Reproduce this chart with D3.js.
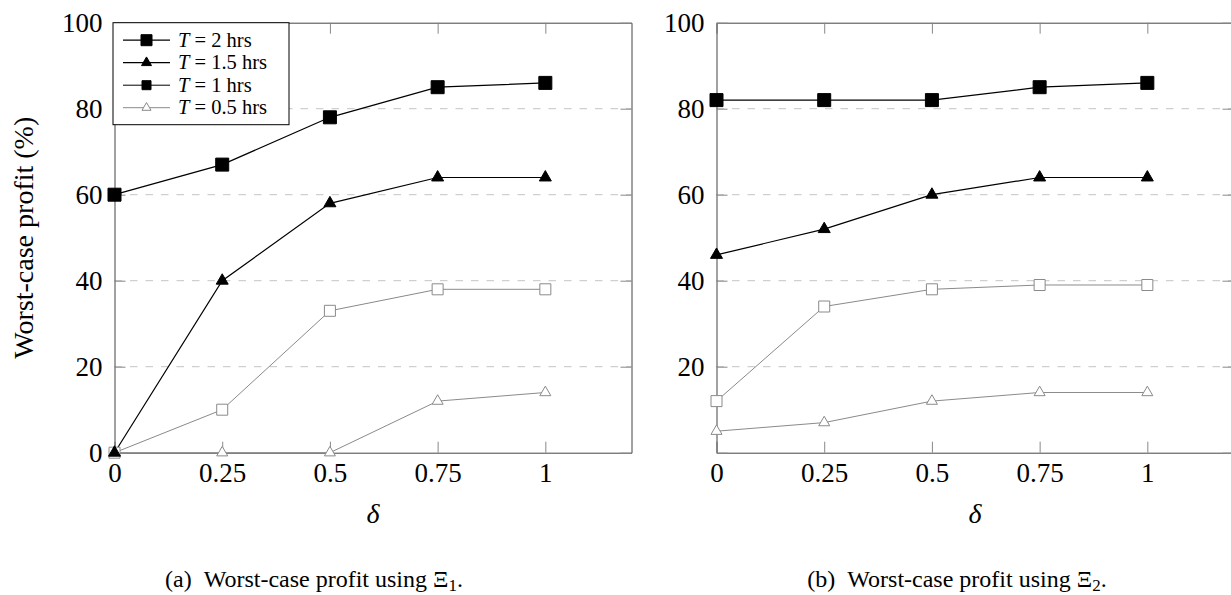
<!DOCTYPE html>
<html lang="en">
<head>
<meta charset="utf-8">
<title>Worst-case profit</title>
<script src="https://cdn.jsdelivr.net/npm/d3@7/dist/d3.min.js"></script>
<style>
  body { margin: 0; background: #fff; }
  text { font-family: "Liberation Serif", "Times New Roman", serif; fill: #000; }
  .tick line { stroke: #888; }
  .domain { stroke: #444; }
</style>
</head>
<body>
<svg id="chart" width="1231" height="595"></svg>
<script>
// delta values on the x axis
var deltas = [0, 0.25, 0.5, 0.75, 1];
var xTicks = [0, 0.25, 0.5, 0.75, 1];
var xTickLabels = ["0", "0.25", "0.5", "0.75", "1"];
var yTicksLeft = [0, 20, 40, 60, 80, 100];
var yTicksRight = [20, 40, 60, 80, 100];
var gridValues = [20, 40, 60, 80];

var seriesNames = ["2 hrs", "1.5 hrs", "1 hrs", "0.5 hrs"];

// panel (a): Xi_1
var xi1_T2 = [60, 67, 78, 85, 86];
var xi1_T15 = [0, 40, 58, 64, 64];
var xi1_T1 = [0, 10, 33, 38, 38];
var xi1_T05 = [0, 0, 0, 12, 14];

// panel (b): Xi_2
var xi2_T2 = [82, 82, 82, 85, 86];
var xi2_T15 = [46, 52, 60, 64, 64];
var xi2_T1 = [12, 34, 38, 39, 39];
var xi2_T05 = [5, 7, 12, 14, 14];

// how each series is drawn (legend copies the original figure, incl. the filled square for T = 1)
var styles = [
    { line: "#000", width: 1.2, marker: "square", fill: "#000", stroke: "#000", size: 13, legendFill: "#000" },
    { line: "#000", width: 1.2, marker: "triangle", fill: "#000", stroke: "#000", size: 12, legendFill: "#000" },
    { line: "#8a8a8a", width: 1, marker: "square", fill: "#fff", stroke: "#8a8a8a", size: 11, legendFill: "#000", legendLine: "#000" },
    { line: "#8a8a8a", width: 1, marker: "triangle", fill: "#fff", stroke: "#8a8a8a", size: 11, legendFill: "#fff" }
];

var svg = d3.select("#chart");
var plotW = 517, plotH = 430, plotTop = 22.7;

function markerPath(kind, size) {
    if (kind == "square") return d3.symbol(d3.symbolSquare, size * size)();
    return d3.symbol(d3.symbolTriangle, size * size * Math.sqrt(3) / 4)();
}

function drawPanel(left, series, yLabels, withLegend) {
    var g = svg.append("g").attr("transform", "translate(" + left + "," + plotTop + ")");
    var x = d3.scaleLinear().domain([0, 1.2]).range([0, plotW]);
    var y = d3.scaleLinear().domain([0, 100]).range([plotH, 0]);

    // dashed grid
    g.selectAll(".grid").data(gridValues).enter().append("line")
        .attr("x1", 0).attr("x2", plotW)
        .attr("y1", d => y(d)).attr("y2", d => y(d))
        .attr("stroke", "#c4c4c4").attr("stroke-width", 1)
        .attr("stroke-dasharray", "7.5,8");

    // axes with inward ticks
    var xAxis = g.append("g").attr("transform", "translate(0," + plotH + ")")
        .call(d3.axisBottom(x).tickValues(xTicks).tickFormat((d, i) => xTickLabels[i])
            .tickSizeInner(-11).tickSizeOuter(0).tickPadding(10));
    xAxis.select(".domain").attr("stroke", "#000");
    xAxis.selectAll("text").attr("font-size", 27);

    g.append("g")
        .call(d3.axisTop(x).tickValues(xTicks).tickFormat("").tickSizeInner(-11).tickSizeOuter(0));

    var yAxis = g.append("g")
        .call(d3.axisLeft(y).tickValues(yTicksLeft)
            .tickFormat(d => yLabels.indexOf(d) >= 0 ? d : "")
            .tickSizeInner(-11).tickSizeOuter(0).tickPadding(12));
    yAxis.selectAll("text").attr("font-size", 27);

    g.append("g").attr("transform", "translate(" + plotW + ",0)")
        .call(d3.axisRight(y).tickValues(yTicksLeft).tickFormat("").tickSizeInner(-11).tickSizeOuter(0));

    // x label
    g.append("text")
        .attr("x", x(0.6))
        .attr("y", plotH + 70)
        .attr("text-anchor", "middle")
        .attr("font-size", 28)
        .attr("font-style", "italic")
        .text("δ");

    var line = d3.line().x((d, i) => x(deltas[i])).y(d => y(d));

    series.forEach(function (vals, s) {
        var st = styles[s];
        g.append("path").datum(vals)
            .attr("d", line)
            .attr("fill", "none")
            .attr("stroke", st.line)
            .attr("stroke-width", st.width);
    });
    // markers on top of all lines, back series first
    series.slice().reverse().forEach(function (vals, r) {
        var s = series.length - 1 - r;
        var st = styles[s];
        g.selectAll(".m" + s).data(vals).enter().append("path")
            .attr("transform", (d, i) => "translate(" + x(deltas[i]) + "," + y(d) + ")")
            .attr("d", markerPath(st.marker, st.size))
            .attr("fill", st.fill)
            .attr("stroke", st.stroke)
            .attr("stroke-width", 1);
    });

    if (withLegend) {
        var lg = g.append("g").attr("transform", "translate(-1.5,0)");
        lg.append("rect")
            .attr("x", 0).attr("y", 0).attr("width", 176).attr("height", 102)
            .attr("fill", "#fff").attr("stroke", "#000").attr("stroke-width", 1);
        seriesNames.forEach(function (name, i) {
            var st = styles[i];
            var ly = 17.5 + i * 22.5;
            var lineColor = st.legendLine || st.line;
            lg.append("line")
                .attr("x1", 10).attr("x2", 57).attr("y1", ly).attr("y2", ly)
                .attr("stroke", lineColor).attr("stroke-width", st.width);
            lg.append("path")
                .attr("transform", "translate(33.5," + ly + ")")
                .attr("d", markerPath(st.marker, st.size - 2))
                .attr("fill", st.legendFill)
                .attr("stroke", st.legendLine ? "#000" : st.stroke);
            var t = lg.append("text")
                .attr("x", 65).attr("y", ly + 6.5)
                .attr("font-size", 20.5);
            t.append("tspan").attr("font-style", "italic").text("T");
            t.append("tspan").text("\u2005=\u2005" + name);
        });
    }
}

drawPanel(114.5, [xi1_T2, xi1_T15, xi1_T1, xi1_T05], yTicksLeft, true);
drawPanel(716.5, [xi2_T2, xi2_T15, xi2_T1, xi2_T05], yTicksRight, false);

// captions with subscripted Xi
function caption(cx, tag, sub) {
    var t = svg.append("text")
        .attr("x", cx).attr("y", 587)
        .attr("text-anchor", "middle")
        .attr("font-size", 24);
    t.append("tspan").text("(" + tag + ")\u2002Worst-case profit using \u039E");
    t.append("tspan").attr("font-size", 17).attr("dy", 4).text(sub);
    t.append("tspan").attr("dy", -4).text(".");
}
caption(314, "a", "1");
caption(957, "b", "2");

// y label
svg.append("text")
    .attr("transform", "translate(33," + (plotTop + plotH / 2) + ") rotate(-90)")
    .attr("text-anchor", "middle")
    .attr("font-size", 28)
    .text("Worst-case profit (%)");
</script>
</body>
</html>
